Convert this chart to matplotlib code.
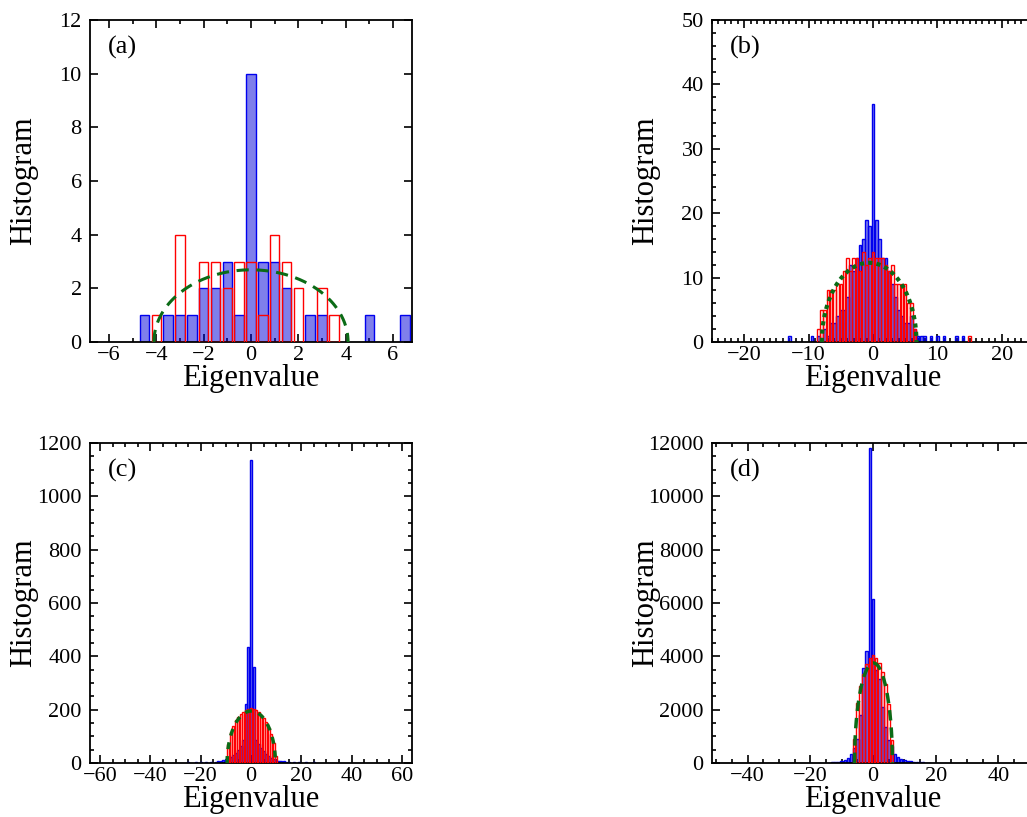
import numpy as np
import matplotlib
matplotlib.use("Agg")
from matplotlib import pyplot as plt
from matplotlib.ticker import MultipleLocator, FuncFormatter

plt.rcParams["font.family"] = ["Liberation Serif", "DejaVu Serif"]
plt.rcParams["mathtext.fontset"] = "stix"

# ---- panel (a): bin width 0.5
a_blue_x = [-4.5, -3.5, -3.0, -2.5, -2.0, -1.5, -1.0, -0.5, 0.0, 0.5, 1.0, 1.5, 2.5, 3.0, 5.0, 6.5]
a_blue_h = [1, 1, 1, 1, 2, 2, 3, 1, 10, 3, 3, 2, 1, 1, 1, 1]
a_red_x = [-4.0, -3.0, -2.0, -1.5, -1.0, -0.5, 0.0, 0.5, 1.0, 1.5, 2.0, 3.0, 3.5]
a_red_h = [1, 4, 3, 3, 2, 3, 3, 1, 4, 3, 2, 2, 1]

# ---- panel (b): bin width 0.5
b_blue_x = [-13.0, -9.5, -8.5, -7.5, -7.0, -6.5, -6.0, -5.5, -5.0, -4.5, -4.0, -3.5, -3.0,
            -2.5, -2.0, -1.5, -1.0, -0.5, 0.0, 0.5, 1.0, 1.5, 2.0, 2.5, 3.0, 3.5, 4.0,
            4.5, 5.0, 5.5, 6.0, 6.5, 7.0, 7.5, 8.0, 9.0, 10.0, 11.0, 13.0, 14.0]
b_blue_h = [1, 1, 1, 2, 1, 3, 3, 4, 5, 5, 7, 12, 11,
            13, 15, 16, 19, 18, 37, 19, 16, 13, 13, 11, 9, 7, 5,
            4, 3, 3, 4, 2, 1, 1, 1, 1, 1, 1, 1, 1]
b_red_x = [-8.5, -8.0, -7.5, -7.0, -6.5, -6.0, -5.5, -5.0, -4.5, -4.0, -3.5, -3.0, -2.5,
           -2.0, -1.5, -1.0, -0.5, 0.0, 0.5, 1.0, 1.5, 2.0, 2.5, 3.0, 3.5, 4.0, 4.5,
           5.0, 5.5, 6.0, 6.5, 15.0]
b_red_h = [2, 5, 5, 8, 8, 8, 9, 9, 11, 13, 11, 13, 13,
           11, 14, 12, 13, 14, 13, 13, 13, 12, 11, 12, 9, 9, 9,
           9, 6, 6, 2, 1]

# ---- panel (c): bin width 1
c_blue_x = [-25, -22, -20, -18, -16, -14, -13, -12, -11, -10, -9, -8, -7, -6, -5, -4, -3,
            -2, -1, 0, 1, 2, 3, 4, 5, 6, 7, 8, 9, 10, 11, 12, 13, 14, 15, 17, 19, 22, 25]
c_blue_h = [2, 2, 3, 3, 4, 5, 6, 8, 10, 14, 18, 24, 30, 38, 48, 62, 85,
            221, 435, 1135, 360, 87, 70, 55, 44, 34, 27, 20, 15, 11, 9, 7, 6, 5, 4, 3, 3, 2, 2]
c_red_x = [-9, -8, -7, -6, -5, -4, -3, -2, -1, 0, 1, 2, 3, 4, 5, 6, 7, 8, 9, 10]
c_red_h = [70, 115, 140, 160, 172, 185, 193, 200, 204, 206, 202, 198, 190, 180, 168, 152, 130, 108, 75, 25]

# ---- panel (d): bin width 1
d_blue_x = [-20, -17, -15, -14, -13, -12, -11, -10, -9, -8, -7, -6, -5, -4, -3, -2, -1, 0,
            1, 2, 3, 4, 5, 6, 7, 8, 9, 10, 11, 12, 13, 14, 15, 16, 17, 18, 20, 23]
d_blue_h = [5, 10, 12, 18, 25, 35, 50, 70, 110, 200, 320, 560, 900, 1800, 3550, 4200, 11800, 6150,
            3500, 3150, 2100, 1350, 870, 650, 320, 210, 160, 120, 90, 70, 55, 40, 30, 22, 15, 10, 6, 4]
d_red_x = [-6, -5, -4, -3, -2, -1, 0, 1, 2, 3, 4, 5, 6]
d_red_h = [900, 2250, 2900, 3350, 3700, 3950, 4050, 3950, 3750, 3400, 2950, 2200, 850]

# semicircle fits (centre, radius, peak height)
a_semi = (0.0, 4.1, 2.69)
b_semi = (-0.6, 7.35, 12.3)
c_semi = (0.1, 9.6, 195)
d_semi = (0.15, 6.05, 3750)

BLUE_FACE = (0.0, 0.0, 0.85, 0.5)
BLUE_EDGE = "#0000ee"
RED = "#ff0000"
GREEN = "#0b6b16"


def semicircle(ax, params, **kw):
    c, r, h = params
    t = np.linspace(-np.pi / 2, np.pi / 2, 400)
    xs = c + r * np.sin(t)
    ys = h * np.cos(t)
    ax.plot(xs, ys, color=GREEN, zorder=5, **kw)


def panel(ax, bx, bh, rx, rh, width, semi, lbl, xlim, ylim, xmaj, xmin, ymaj, ymin, ls, right=True):
    ax.bar(bx, bh, width=width * 0.8, facecolor=BLUE_FACE, edgecolor=BLUE_EDGE, linewidth=1.0, zorder=2)
    ax.bar(rx, rh, width=width * 0.8, facecolor="none", edgecolor=RED, linewidth=1.0, zorder=3)
    semicircle(ax, semi, **ls)
    ax.set_xlim(*xlim)
    ax.set_ylim(*ylim)
    ax.xaxis.set_major_locator(MultipleLocator(xmaj))
    ax.xaxis.set_minor_locator(MultipleLocator(xmin))
    ax.yaxis.set_major_locator(MultipleLocator(ymaj))
    if ymin:
        ax.yaxis.set_minor_locator(MultipleLocator(ymin))
    ax.xaxis.set_major_formatter(FuncFormatter(lambda v, p: ("%d" % round(v)).replace("-", "\u2212")))
    ax.yaxis.set_major_formatter(FuncFormatter(lambda v, p: "%d" % round(v)))
    ax.tick_params(which="both", direction="in", top=True, right=right, labelsize=16, width=1.2)
    ax.tick_params(axis="y", pad=6)
    ax.tick_params(axis="x", pad=3)
    ax.tick_params(which="major", length=6)
    ax.tick_params(which="minor", length=3)
    for s in ax.spines.values():
        s.set_linewidth(1.3)
    ax.set_xlabel("Eigenvalue", fontsize=22, labelpad=-1)
    ax.set_ylabel("Histogram", fontsize=22)
    ax.yaxis.set_label_coords(-0.161, 0.5)
    ax.text(0.055, 0.915, lbl, transform=ax.transAxes, fontsize=19, va="center", ha="left")


fig = plt.figure(figsize=(10.27, 8.17), dpi=100)
W, H = 1027.0, 817.0
axa = fig.add_axes([90 / W, 1 - 342 / H, 322 / W, 322 / H])
axb = fig.add_axes([712 / W, 1 - 342 / H, 322 / W, 322 / H])
axc = fig.add_axes([90 / W, 1 - 763 / H, 322 / W, 320 / H])
axd = fig.add_axes([712 / W, 1 - 763 / H, 322 / W, 320 / H])

panel(axa, a_blue_x, a_blue_h, a_red_x, a_red_h, 0.5, a_semi, "(a)", (-6.8, 6.8), (0, 12),
      2, 1, 2, None, dict(linestyle=(0, (4, 2.5)), linewidth=2.2))
panel(axb, b_blue_x, b_blue_h, b_red_x, b_red_h, 0.5, b_semi, "(b)", (-25, 25), (0, 50),
      10, 1, 10, 2, dict(linestyle=(0, (1, 1)), linewidth=3), right=False)
panel(axc, c_blue_x, c_blue_h, c_red_x, c_red_h, 1.0, c_semi, "(c)", (-64, 64), (0, 1200),
      20, 5, 200, 50, dict(linestyle=(0, (2, 2)), linewidth=2.5))
panel(axd, d_blue_x, d_blue_h, d_red_x, d_red_h, 1.0, d_semi, "(d)", (-51.4, 51.4), (0, 12000),
      20, 5, 2000, 500, dict(linestyle=(0, (3, 2)), linewidth=2.5), right=False)

fig.savefig("out.png", dpi=100)
